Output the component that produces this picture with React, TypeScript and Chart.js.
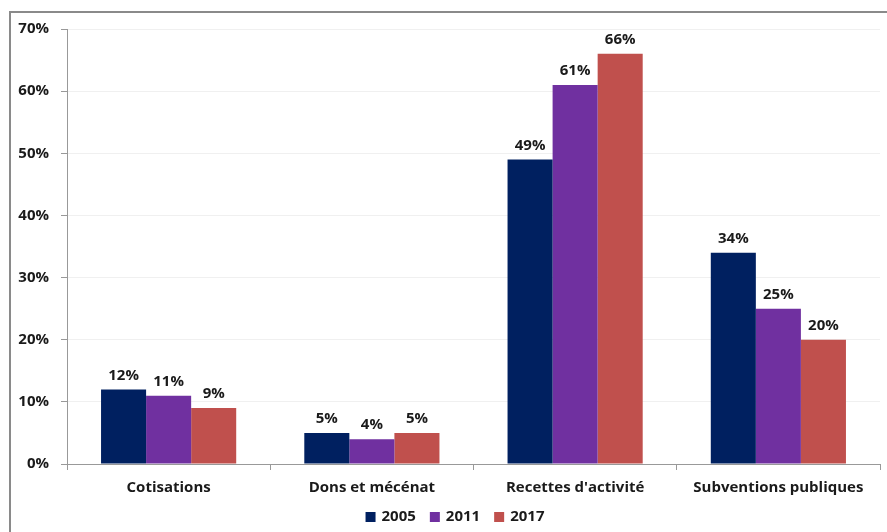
import React, { useEffect, useRef } from "react";
import { Chart, registerables } from "chart.js";

Chart.register(...registerables);

const categories = ["Cotisations", "Dons et mécénat", "Recettes d'activité", "Subventions publiques"];
const seriesNames = ["2005", "2011", "2017"];
const values2005 = [12, 5, 49, 34];
const values2011 = [11, 4, 61, 25];
const values2017 = [9, 5, 66, 20];
const colors = ["#002060", "#7030A0", "#C0504D"];

const FONT = "'Open Sans', sans-serif";

const labelPlugin = {
  id: "barLabels",
  afterDatasetsDraw(chart: any) {
    const ctx = chart.ctx;
    ctx.save();
    ctx.font = `bold 15px ${FONT}`;
    ctx.fillStyle = "#1a1a1a";
    ctx.textAlign = "center";
    ctx.textBaseline = "middle";
    chart.data.datasets.forEach((ds: any, i: number) => {
      const meta = chart.getDatasetMeta(i);
      meta.data.forEach((bar: any, j: number) => {
        ctx.fillText(ds.data[j] + "%", bar.x, bar.y - 14);
      });
    });
    ctx.restore();
  },
};

const legendPlugin = {
  id: "customLegend",
  afterDraw(chart: any) {
    const ctx = chart.ctx;
    ctx.save();
    ctx.font = `bold 15px ${FONT}`;
    ctx.textBaseline = "middle";
    ctx.textAlign = "left";
    const box = 10;
    const gap = 6;
    const itemGap = 14;
    const items = chart.data.datasets.map((ds: any) => ({
      label: ds.label,
      color: ds.backgroundColor,
      w: ctx.measureText(ds.label).width,
    }));
    const total = items.reduce((a: number, it: any) => a + box + gap + it.w, 0) + itemGap * (items.length - 1);
    const centerX = 455;
    const cy = 517;
    let x = centerX - total / 2;
    items.forEach((it: any) => {
      ctx.fillStyle = it.color;
      ctx.fillRect(x, cy - box / 2, box, box);
      x += box + gap;
      ctx.fillStyle = "#1a1a1a";
      ctx.fillText(it.label, x, cy);
      x += it.w + itemGap;
    });
    ctx.restore();
  },
};

export default function App() {
  const ref = useRef<HTMLCanvasElement>(null);
  useEffect(() => {
    document.body.style.margin = "0";
    const chart = new Chart(ref.current!, {
      type: "bar",
      data: {
        labels: categories,
        datasets: [values2005, values2011, values2017].map((d, i) => ({
          label: seriesNames[i],
          data: d,
          backgroundColor: colors[i],
          borderWidth: 0,
          categoryPercentage: 0.665,
          barPercentage: 1,
        })),
      },
      options: {
        animation: false,
        responsive: false,
        layout: { padding: { top: 29, right: 7, left: 0, bottom: 35 } },
        plugins: {
          legend: { display: false },
          tooltip: { enabled: false },
        },
        scales: {
          x: {
            grid: {
              drawOnChartArea: false,
              drawTicks: true,
              tickLength: 6,
              tickColor: "#999",
              offset: true,
            },
            border: { color: "#999", width: 1 },
            ticks: {
              color: "#1a1a1a",
              padding: 9,
              font: { family: FONT, size: 15, weight: "bold" },
            },
            afterFit: (s: any) => {
              s.height = 33;
            },
          },
          y: {
            min: 0,
            max: 70,
            ticks: {
              stepSize: 10,
              color: "#1a1a1a",
              padding: 12,
              callback: (v: any) => v + "%",
              font: { family: FONT, size: 15, weight: "bold" },
            },
            grid: { color: "#f0f0f0", tickColor: "#999", tickLength: 6 },
            border: { color: "#999", width: 1 },
            afterFit: (s: any) => {
              s.width = 67;
            },
          },
        },
      },
      plugins: [labelPlugin, legendPlugin],
    });
    return () => chart.destroy();
  }, []);
  return (
    <div style={{ position: "relative", width: 887, height: 532, overflow: "hidden", background: "#fff" }}>
      <div
        style={{
          position: "absolute",
          left: 9,
          top: 11,
          width: 1000,
          height: 1000,
          borderLeft: "2px solid #8a8a8a",
          borderTop: "2px solid #8a8a8a",
        }}
      />
      <canvas ref={ref} width={887} height={532} style={{ position: "absolute", left: 0, top: 0 }} />
    </div>
  );
}
